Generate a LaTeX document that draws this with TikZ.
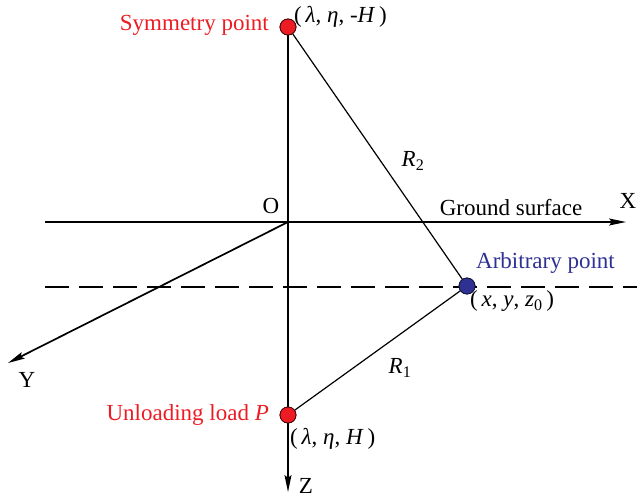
\documentclass[tikz,border=0pt]{standalone}
\usepackage{fontspec}
\setmainfont{Liberation Serif}
\usetikzlibrary{arrows.meta}
\definecolor{myred}{RGB}{237,28,36}
\definecolor{myblue}{RGB}{46,49,146}
\begin{document}
\begin{tikzpicture}[x=1pt,y=-1pt,
  every node/.style={font=\fontsize{23}{27}\selectfont, inner sep=0pt},
  axis/.style={line width=1.7pt, -{Stealth[length=17pt,width=7pt,inset=3pt]}},
  thin/.style={line width=1.2pt},
  redpt/.style={circle, draw=black!70!myred, line width=0.8pt, fill=myred, minimum size=16pt},
  bluept/.style={circle, draw=black!60!myblue, line width=0.8pt, fill=myblue, minimum size=16pt},
  redtxt/.style={text=myred},
  bluetxt/.style={text=myblue}]
\useasboundingbox (0,0) rectangle (637,498);
\coordinate (O) at (288,222);
\coordinate (Xs) at (45,222);
\coordinate (Xe) at (626,222);
\coordinate (Ye) at (8,363);
\coordinate (Ze) at (288,492);
\coordinate (Ds) at (45,287);
\coordinate (De) at (637,287);
% dashed line
\draw[thin, dash pattern=on 24pt off 10pt] (Ds) -- (De);
% axes
\draw[axis] (Xs) -- (Xe);
\draw[axis] (O) -- (Ye);
\node[redpt] (S) at (288,27) {};
\node[redpt] (L) at (288,415) {};
\node[bluept] (A) at (467,286) {};
\draw[line width=1.7pt] (S) -- (L);
\draw[axis] (L) -- (Ze);
\draw[thin] (S) -- (A);
\draw[thin] (L) -- (A);
% redraw points on top
\node[redpt] at (S) {};
\node[redpt] at (L) {};
\node[bluept] at (A) {};
% labels
\node[redtxt, anchor=east] (ls) at (269,25) {Symmetry point};
\node[anchor=west] (cs) at (294,17) {(\,\textit{λ}, \textit{η}, -\textit{H}\,)};
\node[redtxt, anchor=east] (ll) at (269,415) {Unloading load \textit{P}};
\node[anchor=west] (cl) at (290,439) {(\,\textit{λ}, \textit{η}, \textit{H}\,)};
\node[bluetxt, anchor=west] (la) at (476,263) {Arbitrary point};
\node[anchor=west] (ca) at (470,301) {(\,\textit{x}, \textit{y}, \textit{z}\textsubscript{0}\,)};
\node (r2) at (413,161) {\textit{R}\textsubscript{2}};
\node (r1) at (400,368) {\textit{R}\textsubscript{1}};
\node (gs) at (511,208) {Ground surface};
\node (xl) at (628,201) {X};
\node (ol) at (271,206) {O};
\node (yl) at (27,380) {Y};
\node (zl) at (306,486) {Z};
\end{tikzpicture}
\end{document}
